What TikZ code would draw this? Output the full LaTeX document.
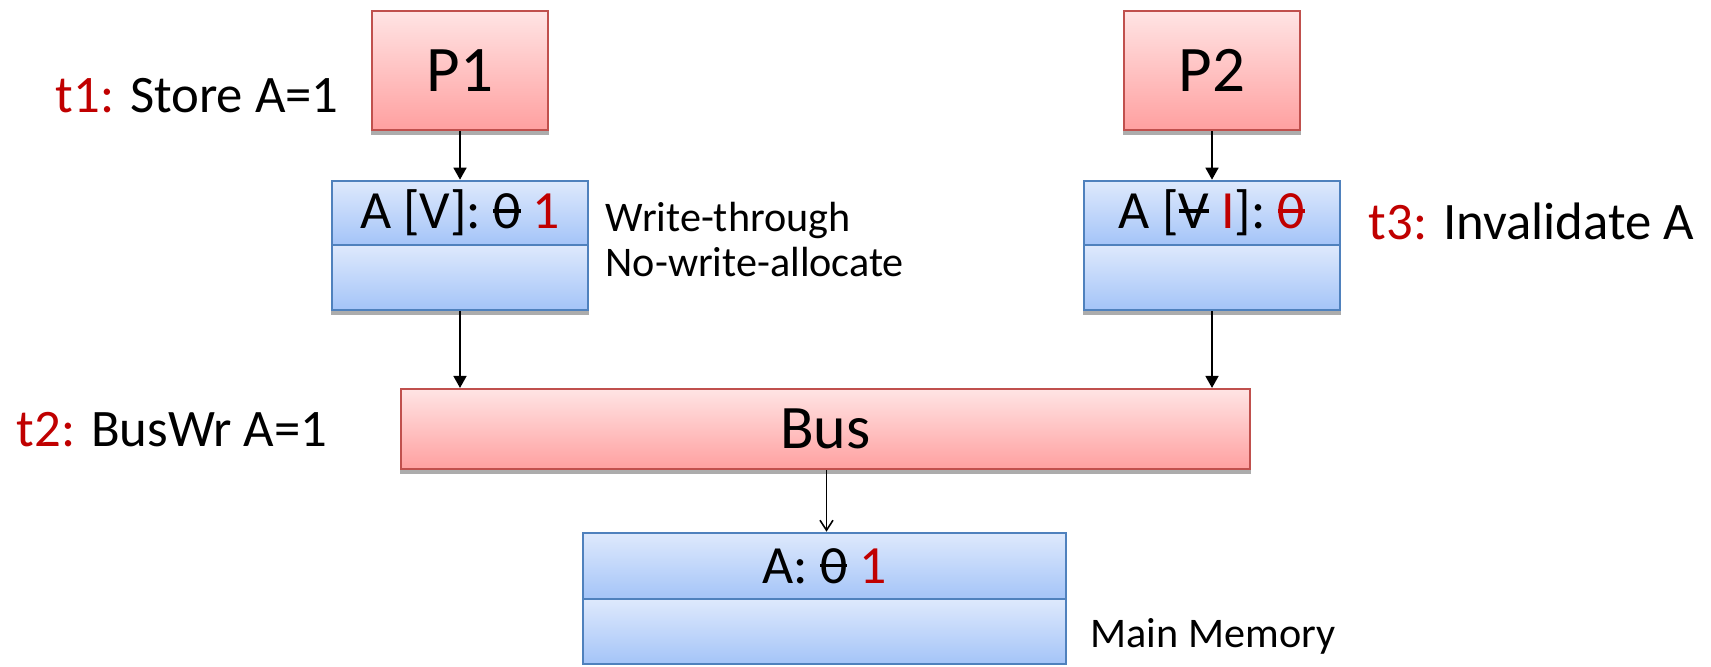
\documentclass[tikz,border=0pt]{standalone}
\usepackage{fontspec}
\setmainfont{Carlito}
\usetikzlibrary{arrows.meta,calc}
\definecolor{tred}{RGB}{192,0,0}
\definecolor{redline}{RGB}{192,80,77}
\definecolor{redtop}{RGB}{255,228,228}
\definecolor{redbot}{RGB}{255,160,160}
\definecolor{blueline}{RGB}{79,129,189}
\definecolor{bluetop}{RGB}{222,233,252}
\definecolor{bluebot}{RGB}{164,196,248}
% crossed-out value
\newcommand{\strikeval}[1]{\setbox0\hbox{#1}\rlap{\rule[0.3em]{\wd0}{0.06em}}\box0\relax}

\begin{document}
\begin{tikzpicture}[>={Triangle[length=1.2mm,width=1.3mm]},
  proc/.style={draw=redline,line width=0.6pt,top color=redtop,bottom color=redbot,inner sep=0pt,font=\fontsize{18.5}{20}\selectfont},
  cell/.style={draw=blueline,line width=0.45pt,top color=bluetop,bottom color=bluebot,inner sep=0pt,font=\fontsize{15.3}{17}\selectfont},
  head/.style={cell,line width=0.75pt},
  lab/.style={font=\fontsize{15}{17}\selectfont,inner sep=0pt,anchor=base west},
  note/.style={font=\fontsize{12}{13}\selectfont,inner sep=0pt,anchor=base west},
  wire/.style={line width=0.45pt}]
  \useasboundingbox (0,0) rectangle (17.11,-6.67);
  % processors
  \node[proc,minimum width=1.76cm,minimum height=1.19cm] (p1) at (4.60,-0.705) {P1};
  \node[proc,minimum width=1.76cm,minimum height=1.19cm] (p2) at (12.12,-0.705) {P2};
  % caches
  \node[cell,minimum width=2.56cm,minimum height=0.65cm] (c1b) at (4.60,-2.775) {};
  \node[head,minimum width=2.56cm,minimum height=0.64cm] (c1a) at (4.60,-2.13) {A [V]: \strikeval{0} \textcolor{tred}{1}};
  \node[cell,minimum width=2.56cm,minimum height=0.65cm] (c2b) at (12.12,-2.775) {};
  \node[head,minimum width=2.56cm,minimum height=0.64cm] (c2a) at (12.12,-2.13) {A [\strikeval{V} \textcolor{tred}{I}]: {\color{tred}\strikeval{0}}};
  % bus and memory
  \node[proc,minimum width=8.49cm,minimum height=0.80cm,font=\fontsize{17.6}{19}\selectfont] (bus) at (8.255,-4.29) {Bus};
  \node[cell,minimum width=4.83cm,minimum height=0.65cm] (m2) at (8.245,-6.315) {};
  \node[head,minimum width=4.83cm,minimum height=0.66cm] (m1) at (8.245,-5.66) {A: \strikeval{0} \textcolor{tred}{1}};
  \foreach \n in {p1,p2,c1b,c2b,bus}
    \fill[gray!65] (\n.south west) rectangle ($(\n.south east)+(0,-0.04)$);
  % events
  \node[lab] (t1) at (0.55,-1.13) {\textcolor{tred}{t1:} Store A=1};
  \node[lab] (t2) at (0.16,-4.47) {\textcolor{tred}{t2:} BusWr A=1};
  \node[lab] (t3) at (13.68,-2.40) {\textcolor{tred}{t3:} Invalidate A};
  \node[note] (wt) at (6.05,-2.32) {Write-through};
  \node[note] (nwa) at (6.05,-2.77) {No-write-allocate};
  \node[note] (mm) at (10.90,-6.47) {Main Memory};
  % connectors
  \draw[wire,->] (p1) -- (c1a);
  \draw[wire,->] (p2) -- (c2a);
  \draw[wire,->] (c1b.south) -- (c1b.south |- bus.north);
  \draw[wire,->] (c2b.south) -- (c2b.south |- bus.north);
  \draw[wire,-{Straight Barb[length=1mm,width=1.3mm]}] ($(m1.north |- bus.south)+(0.02,0)$) -- ($(m1.north)+(0.02,0)$);
\end{tikzpicture}
\end{document}
